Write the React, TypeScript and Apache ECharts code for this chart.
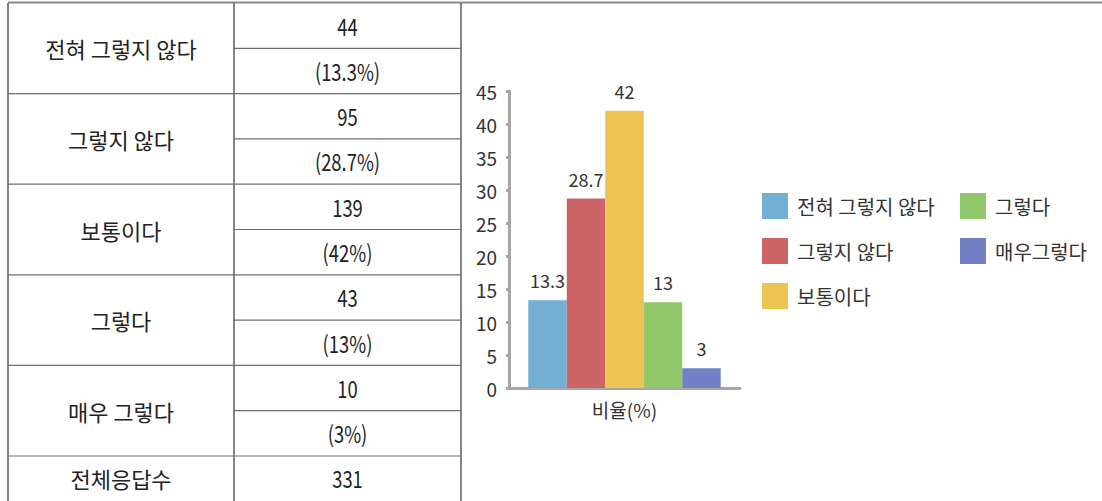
import React, { useEffect, useRef } from "react";
import * as echarts from "echarts";

const categories = ["전혀 그렇지 않다", "그렇지 않다", "보통이다", "그렇다", "매우 그렇다"];
const legendNames = ["전혀 그렇지 않다", "그렇지 않다", "보통이다", "그렇다", "매우그렇다"];
const counts = [44, 95, 139, 43, 10];
const percentLabels = ["(13.3%)", "(28.7%)", "(42%)", "(13%)", "(3%)"];
const ratios = [13.3, 28.7, 42, 13, 3];
const totalLabel = "전체응답수";
const totalCount = 331;
const xCategory = ["비율(%)"];
const colors = ["#72AFD3", "#CD6566", "#EBC452", "#91C96A", "#7480C6"];

const FONT = "'Noto Sans CJK KR', 'Noto Sans', sans-serif";

function numText(x: number, y: number, text: string) {
  return {
    type: "text",
    x,
    y,
    scaleX: 0.8,
    style: { text, fill: "#222", font: `23px ${FONT}`, textAlign: "center", textVerticalAlign: "middle" },
    silent: true,
  };
}

function buildTable() {
  const els: any[] = [];
  const x0 = 8, x1 = 234, x2 = 461;
  const top = 3;
  const rh = 45.3;
  const lineColor = "#6e6e6e";
  els.push({ type: "line", shape: { x1: x0, y1: 2.5, x2: 1102, y2: 2.5 }, style: { stroke: "#8a8a8a", lineWidth: 2 }, silent: true });
  [x0, x1, x2].forEach((x) => {
    els.push({ type: "line", shape: { x1: x, y1: top, x2: x, y2: 501 }, style: { stroke: "#333", lineWidth: 1.2 }, silent: true });
  });
  categories.forEach((c, i) => {
    const yTop = top + i * 2 * rh;
    const yMid = yTop + rh;
    const yBot = yTop + 2 * rh;
    els.push({ type: "line", shape: { x1: x1, y1: yMid, x2: x2, y2: yMid }, style: { stroke: lineColor, lineWidth: 1.2 }, silent: true });
    els.push({ type: "line", shape: { x1: x0, y1: yBot, x2: x2, y2: yBot }, style: { stroke: lineColor, lineWidth: 1.2 }, silent: true });
    els.push({ type: "text", x: (x0 + x1) / 2, y: yMid, style: { text: c, fill: "#222", font: `22px ${FONT}`, textAlign: "center", textVerticalAlign: "middle" }, silent: true });
    els.push(numText((x1 + x2) / 2, yTop + rh / 2, String(counts[i])));
    els.push(numText((x1 + x2) / 2, yMid + rh / 2, percentLabels[i]));
  });
  const yT = top + 10 * rh;
  els.push({ type: "text", x: (x0 + x1) / 2, y: yT + 22, style: { text: totalLabel, fill: "#222", font: `22px ${FONT}`, textAlign: "center", textVerticalAlign: "middle" }, silent: true });
  els.push(numText((x1 + x2) / 2, yT + 22, String(totalCount)));
  return els;
}

export default function App() {
  const ref = useRef<HTMLDivElement>(null);
  useEffect(() => {
    document.body.style.margin = "0";
    const chart = echarts.init(ref.current!, null, { renderer: "svg" });
    const legendCommon = {
      orient: "vertical",
      itemWidth: 26,
      itemHeight: 26,
      itemGap: 19,
      icon: "rect",
      textStyle: { fontSize: 20, color: "#333", fontFamily: FONT, padding: [0, 0, 0, 4] },
      selectedMode: false,
    };
    chart.setOption({
      animation: false,
      textStyle: { fontFamily: FONT },
      grid: { left: 509, right: 362, top: 91, bottom: 113, containLabel: false },
      legend: [
        { ...legendCommon, left: 757, top: 188, data: legendNames.slice(0, 3) },
        { ...legendCommon, left: 955, top: 188, data: legendNames.slice(3) },
      ],
      xAxis: {
        type: "category",
        data: xCategory,
        axisLine: { lineStyle: { color: "#a6a6a6", width: 3 } },
        axisTick: { show: false },
        axisLabel: { fontSize: 19, color: "#333", margin: 12 },
      },
      yAxis: {
        type: "value",
        min: 0,
        max: 45,
        interval: 5,
        splitLine: { show: false },
        axisLine: { show: true, lineStyle: { color: "#a6a6a6", width: 3 } },
        axisTick: { show: true, length: 3, lineStyle: { color: "#a6a6a6", width: 3 } },
        axisLabel: { fontSize: 19, color: "#333", margin: 12 },
      },
      series: legendNames.map((name, i) => ({
        name,
        type: "bar",
        data: [ratios[i]],
        barGap: "0%",
        barCategoryGap: "16.7%",
        itemStyle: { color: colors[i] },
        label: { show: true, position: "top", distance: 11, fontSize: 18, color: "#333" },
      })),
      graphic: buildTable(),
    });
    return () => chart.dispose();
  }, []);
  return <div ref={ref} style={{ width: 1102, height: 501 }} />;
}
